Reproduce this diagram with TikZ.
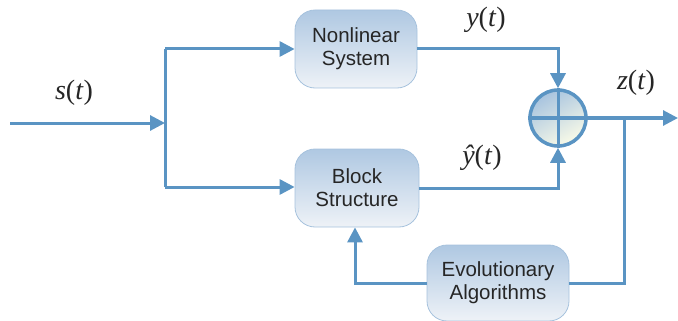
\documentclass[tikz,border=0pt]{standalone}
\usepackage{fontspec}
\setmainfont{Liberation Sans}
\newfontfamily\timesf{Liberation Serif}
\usetikzlibrary{arrows.meta,calc}
\definecolor{lc}{HTML}{5A94C3}
\definecolor{btop}{HTML}{AFC8E2}
\definecolor{bbot}{HTML}{EEF2F7}
\definecolor{bdr}{HTML}{A6C2DD}
\tikzset{
  blk/.style={draw=bdr, line width=0.8pt, rounded corners=20pt, top color=btop, bottom color=bbot,
    minimum width=122pt, minimum height=78pt, align=center, font=\fontsize{20.5pt}{23pt}\selectfont, text=black!85, inner sep=0pt},
  wire/.style={draw=lc, line width=3pt},
  arr/.style={wire, -{Triangle[length=15pt,width=15pt]}},
  sig/.style={font=\timesf\fontsize{28pt}{30pt}\selectfont, text=black!85, inner sep=0pt}
}
\begin{document}
\begin{tikzpicture}[x=1pt,y=-1pt]
\useasboundingbox (0,0) rectangle (678,321);
\node[blk] (ns) at (356,49) {Nonlinear\\System};
\node[blk, minimum width=124pt] (bs) at (357,188) {Block\\Structure};
\node[blk, minimum width=142pt, minimum height=76pt] (ea) at (498,283) {Evolutionary\\Algorithms};
\node[circle, draw=lc, line width=3.5pt, minimum size=56pt, inner sep=0pt,
      shading=axis, top color=btop!90!lc, bottom color=bbot!80!yellow!40!white, shading angle=30] (sum) at (558,118) {};
\draw[draw=lc, line width=3pt] (sum.north) -- (sum.south) (sum.west) -- (sum.east);
\coordinate (in) at (10,123);
\coordinate (sp) at (165,123);
\coordinate (tp) at (165,49);
\coordinate (bt) at (165,187);
\coordinate (out) at (678,118);
\coordinate (tap) at (624,118);
\draw[arr] (in) -- (sp);
\draw[wire, line join=round] (tp) -- (bt);
\draw[arr] (tp) -- (ns.west |- tp);
\draw[arr] (bt) -- (bs.west |- bt);
\draw[arr] (ns.east) -| (sum.north);
\draw[arr] (bs.east) -| (sum.south);
\draw[arr] (sum.east) -- (out);
\draw[wire] (tap) |- (ea.east);
\draw[arr] (ea.west) -| ($(bs.south)+(-2,0)$);
\node[sig] (ly) at (486,20) {\textit{y}(\textit{t})};
\node[sig] (lyh) at (482,158) {\textit{\^{y}}(\textit{t})};
\node[sig] (lz) at (636,83) {\textit{z}(\textit{t})};
\node[sig] (ls) at (74,93) {\textit{s}(\textit{t})};
\end{tikzpicture}
\end{document}
